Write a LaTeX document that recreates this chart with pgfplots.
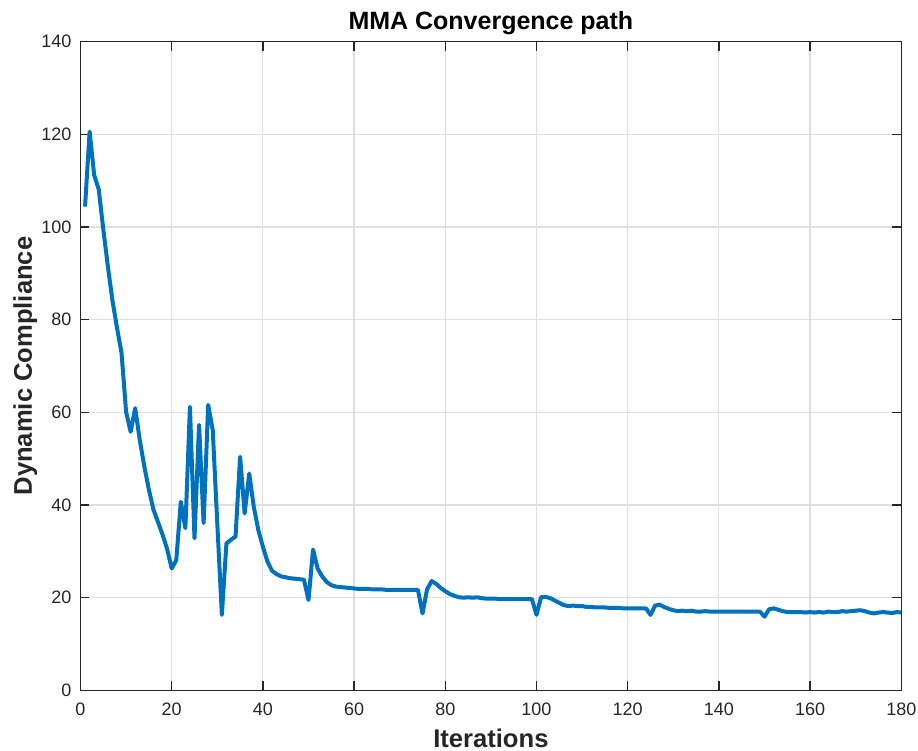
\documentclass[border=0pt]{standalone}
\usepackage{pgfplots}
\pgfplotsset{compat=1.18}
\usepackage{fontspec}
\setmainfont{Liberation Sans}
\definecolor{mblue}{rgb}{0,0.447,0.741}
\definecolor{axgray}{HTML}{262626}
\definecolor{gridgray}{HTML}{DFDFDF}
\pgfplotstableread{
it val
1 104.4
2 120.6
3 111.2
4 108.1
5 99.5
6 91.5
7 84.2
8 78.3
9 72.8
10 60.1
11 55.8
12 60.9
13 54.0
14 48.3
15 43.3
16 39.0
17 36.3
18 33.6
19 30.5
20 26.3
21 28.1
22 40.7
23 35.0
24 61.2
25 32.8
26 57.3
27 36.1
28 61.6
29 56.2
30 36.0
31 16.3
32 31.7
33 32.5
34 33.2
35 50.4
36 38.2
37 46.8
38 39.6
39 34.6
40 31.0
41 27.8
42 25.8
43 25.1
44 24.6
45 24.4
46 24.2
47 24.1
48 24.0
49 23.9
50 19.5
51 30.4
52 26.3
53 24.6
54 23.4
55 22.7
56 22.4
57 22.3
58 22.2
59 22.1
60 22.0
61 21.9
62 21.9
63 21.9
64 21.8
65 21.8
66 21.8
67 21.7
68 21.7
69 21.7
70 21.7
71 21.7
72 21.7
73 21.7
74 21.7
75 16.6
76 21.8
77 23.6
78 23.0
79 22.1
80 21.4
81 20.8
82 20.4
83 20.1
84 20.0
85 20.1
86 20.0
87 20.1
88 19.9
89 19.8
90 19.8
91 19.8
92 19.7
93 19.7
94 19.7
95 19.7
96 19.7
97 19.7
98 19.7
99 19.7
100 16.3
101 20.1
102 20.2
103 19.9
104 19.4
105 18.9
106 18.4
107 18.2
108 18.3
109 18.2
110 18.2
111 18.0
112 18.0
113 17.9
114 17.9
115 17.9
116 17.8
117 17.8
118 17.8
119 17.7
120 17.7
121 17.7
122 17.7
123 17.7
124 17.7
125 16.3
126 18.3
127 18.5
128 18.0
129 17.6
130 17.3
131 17.1
132 17.2
133 17.1
134 17.2
135 17.0
136 17.0
137 17.1
138 17.0
139 17.0
140 17.0
141 17.0
142 17.0
143 17.0
144 17.0
145 17.0
146 17.0
147 17.0
148 17.0
149 17.0
150 15.9
151 17.5
152 17.7
153 17.4
154 17.1
155 16.9
156 16.9
157 16.9
158 16.9
159 16.8
160 16.9
161 16.8
162 16.9
163 16.8
164 17.0
165 16.9
166 16.9
167 17.1
168 17.0
169 17.1
170 17.2
171 17.3
172 17.1
173 16.8
174 16.6
175 16.8
176 16.9
177 16.8
178 16.7
179 16.9
180 16.8
}\datatable
\begin{document}
\begin{tikzpicture}
\useasboundingbox (-40.25pt,-30.3pt) rectangle (418.75pt,345.2pt);
\begin{axis}[
  at={(0,0)}, anchor=south west,
  scale only axis,
  width=410.4pt, height=324.4pt,
  xmin=0, xmax=180, ymin=0, ymax=140,
  xtick={0,20,...,180}, ytick={0,20,...,140},
  grid=major,
  major grid style={color=gridgray, line width=0.6pt},
  axis line style={color=axgray, line width=0.7pt},
  tick style={color=axgray, line width=0.7pt},
  major tick length=4.5pt,
  tick align=inside,
  xtick pos=both, ytick pos=both,
  /pgf/number format/assume math mode=true,
  ticklabel style={font=\fontsize{9}{10}\selectfont, color=axgray},
  xticklabel style={yshift=-2.5pt},
  yticklabel style={xshift=-1pt},
  title={MMA Convergence path},
  title style={at={(axis description cs:0.5,1)}, anchor=base, font=\bfseries\fontsize{12.5}{14}\selectfont},
  xlabel={Iterations},
  xlabel style={at={(axis description cs:0.5,-0.0883)}, anchor=base, font=\bfseries\fontsize{12.8}{14}\selectfont, color=axgray},
  ylabel={Dynamic Compliance},
  ylabel style={at={(axis description cs:-0.0591,0.5)}, anchor=base, font=\bfseries\fontsize{12.8}{14}\selectfont, color=axgray},
]
\addplot[color=mblue, line width=2pt, line join=round] table[x=it, y=val] {\datatable};
\end{axis}
\end{tikzpicture}
\end{document}
